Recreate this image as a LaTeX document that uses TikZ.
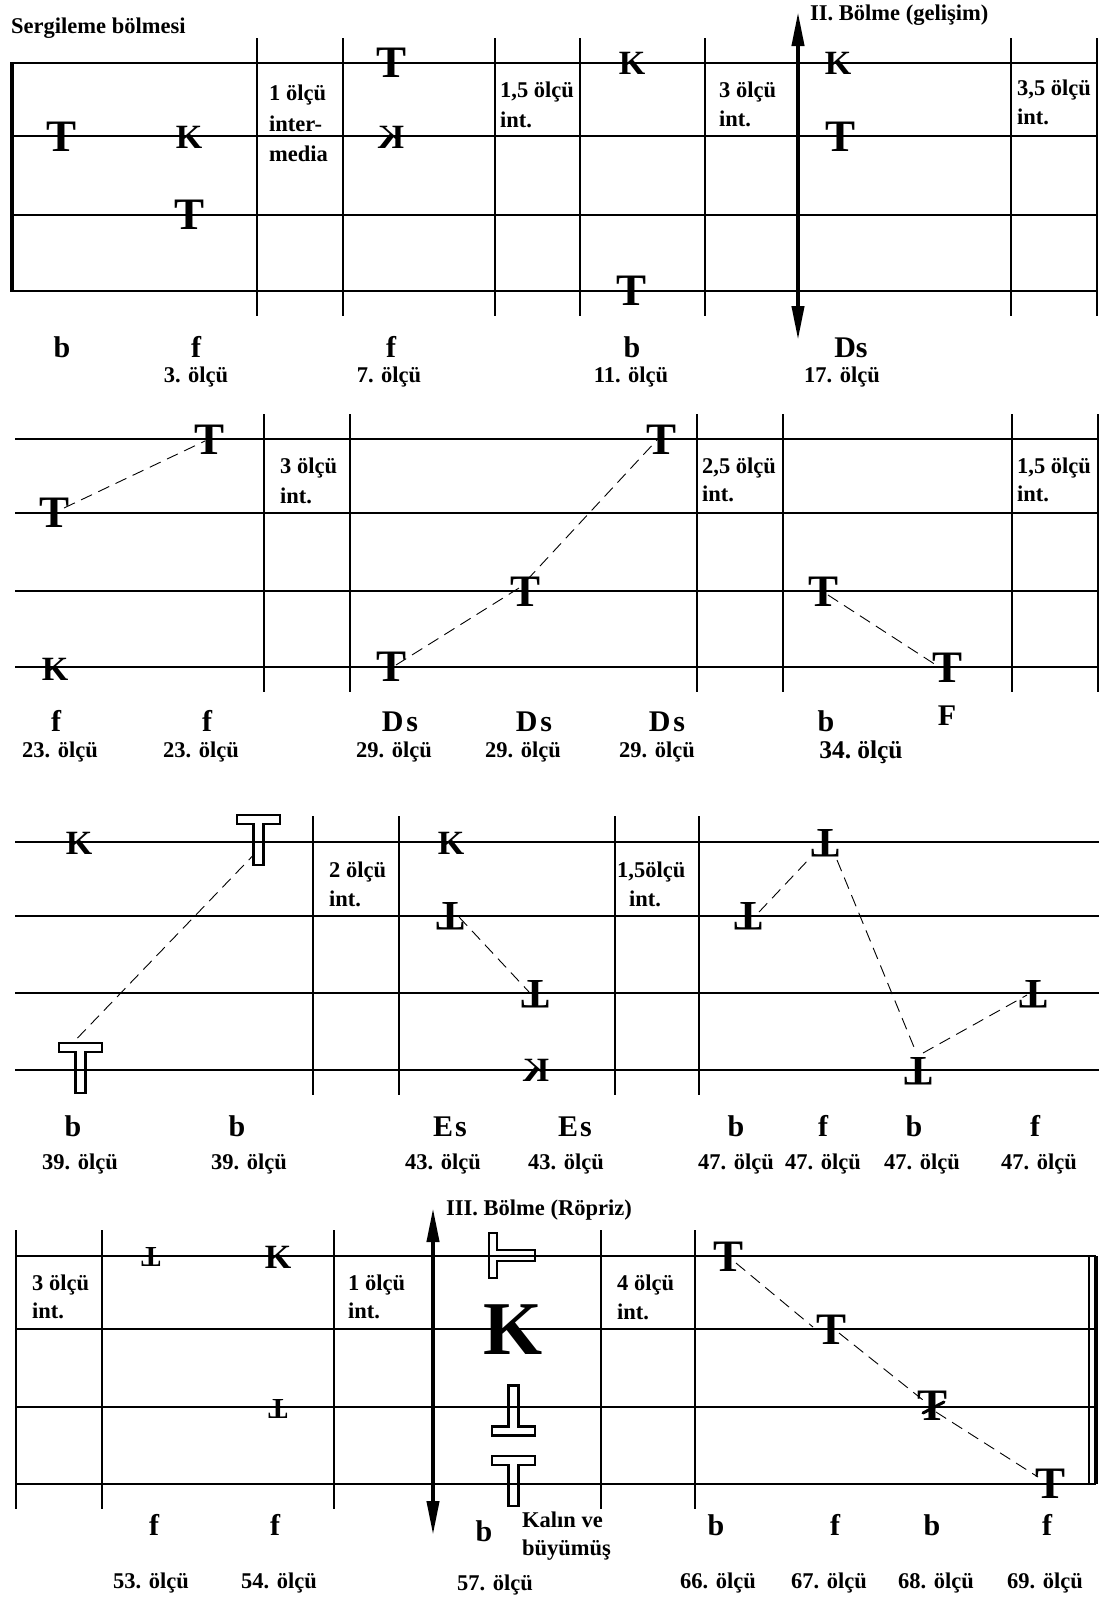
\documentclass[tikz,border=0pt]{standalone}
\usepackage{fontspec}
\usepackage{graphicx}
\setmainfont{Liberation Serif}
\usetikzlibrary{arrows.meta,calc}
\newcommand{\hTpath}{(-21.5,-25) -- (21.5,-25) -- (21.5,-16) -- (5,-16) -- (5,25) -- (-5,25) -- (-5,-16) -- (-21.5,-16) -- cycle}
\newcommand{\hUpath}{(-5,-25) -- (5,-25) -- (5,16) -- (21.5,16) -- (21.5,25) -- (-21.5,25) -- (-21.5,16) -- (-5,16) -- cycle}
\newcommand{\hLpath}{(-23,-22.5) -- (-15,-22.5) -- (-15,-5.5) -- (23,-5.5) -- (23,5.5) -- (-15,5.5) -- (-15,22.5) -- (-23,22.5) -- cycle}
\begin{document}
\begin{tikzpicture}[x=1pt,y=-1pt,
  staff/.style={line width=1.5pt},
  barl/.style={line width=1.3pt},
  dl/.style={line width=0.9pt, dash pattern=on 12pt off 7pt},
  lab/.style={font=\fontsize{22.5}{27}\selectfont\bfseries, inner sep=0pt, anchor=base west},
  num/.style={font=\fontsize{22.5}{27}\selectfont\bfseries, inner sep=0pt, anchor=base},
  key/.style={font=\fontsize{30}{34}\selectfont\bfseries, inner sep=0pt, anchor=base},
  symT/.style={font=\fontsize{45}{50}\selectfont\bfseries, inner sep=0pt},
  symU/.style={font=\fontsize{42}{46}\selectfont\bfseries, inner sep=0pt},
  symK/.style={font=\fontsize{34}{40}\selectfont\bfseries, inner sep=0pt},
  smallU/.style={font=\fontsize{29}{32}\selectfont\bfseries, inner sep=0pt},
  hbox/.style={minimum width=58pt, minimum height=58pt, inner sep=0pt},
  hollowT/.style={hbox, path picture={\draw[line width=2.2pt, shift={(path picture bounding box.center)}] \hTpath;}},
  hollowU/.style={hbox, path picture={\draw[line width=2.2pt, shift={(path picture bounding box.center)}] \hUpath;}},
  hollowL/.style={hbox, path picture={\draw[line width=2.2pt, shift={(path picture bounding box.center)}] \hLpath;}},
  bigarrow/.style={line width=4pt, arrows={Triangle[length=34pt,width=12pt]-Triangle[length=34pt,width=12pt]}}
]
\useasboundingbox (0,0) rectangle (1104,1599);

% ================= Row 1 =================
\foreach \y in {63,136,215,291} \draw[staff] (10,\y) -- (1098,\y);
\draw[line width=3.5pt] (12,63) -- (12,291);
\foreach \x in {257,343,495,580,705,1011,1097} \draw[barl] (\x,38) -- (\x,316);
\coordinate (ar1t) at (798,12);
\coordinate (ar1b) at (798,340);
\draw[bigarrow] (ar1t) -- (ar1b);

\node[lab] (title1) at (11,33) {Sergileme bölmesi};
\node[lab] (sec2) at (810,20) {II. Bölme (gelişim)};

\node[lab] (i1a) at (269,100) {1 ölçü};
\node[lab] (i1b) at (269,131) {inter-};
\node[lab] (i1c) at (269,161) {media};
\node[lab] (i2a) at (500,97) {1,5 ölçü};
\node[lab] (i2b) at (500,127) {int.};
\node[lab] (i3a) at (719,97) {3 ölçü};
\node[lab] (i3b) at (719,126) {int.};
\node[lab] (i4a) at (1017,95) {3,5 ölçü};
\node[lab] (i4b) at (1017,124) {int.};

\node[symT] (r1t1) at (62,137) {T};
\node[symK] (r1k1) at (189,137) {K};
\node[symT] (r1t2) at (190,215) {T};
\node[symT] (r1t3) at (392,63) {T};
\node[symK] (r1k2) at (391,137) {\reflectbox{K}};
\node[symK] (r1k3) at (632,63) {K};
\node[symT] (r1t4) at (632,291) {T};
\node[symK] (r1k4) at (838,63) {K};
\node[symT] (r1t5) at (840,137) {T};

\node[key] (r1l1) at (62,357) {b};
\node[key] (r1l2) at (196,357) {f};
\node[key] (r1l3) at (391,357) {f};
\node[key] (r1l4) at (632,357) {b};
\node[key] (r1l5) at (851,357) {Ds};
\node[num] (r1n1) at (196,382) {3. ölçü};
\node[num] (r1n2) at (389,382) {7. ölçü};
\node[num] (r1n3) at (631,382) {11. ölçü};
\node[num] (r1n4) at (842,382) {17. ölçü};

% ================= Row 2 =================
\foreach \y in {439,513,591,667} \draw[staff] (15,\y) -- (1099,\y);
\foreach \x in {264,350,697,783,1012,1098} \draw[barl] (\x,414) -- (\x,692);

\node[lab] (j1a) at (280,473) {3 ölçü};
\node[lab] (j1b) at (280,503) {int.};
\node[lab] (j2a) at (702,473) {2,5 ölçü};
\node[lab] (j2b) at (702,501) {int.};
\node[lab] (j3a) at (1017,473) {1,5 ölçü};
\node[lab] (j3b) at (1017,501) {int.};

\node[symT] (r2t1) at (55,513) {T};
\node[symT] (r2t2) at (210,440) {T};
\node[symK] (r2k1) at (55,669) {K};
\node[symT] (r2t3) at (392,667) {T};
\node[symT] (r2t4) at (526,592) {T};
\node[symT] (r2t5) at (662,440) {T};
\node[symT] (r2t6) at (823,592) {T};
\node[symT] (r2t7) at (947,668) {T};

\draw[dl] ($(r2t1)+(9,-5)$) -- ($(r2t2)+(-5,1)$);
\draw[dl] ($(r2t3)+(4,-2)$) -- ($(r2t4)+(1,-9)$);
\draw[dl] ($(r2t4)+(1,-12)$) -- ($(r2t5)+(-5,0)$);
\draw[dl] ($(r2t6)+(5,3)$) -- ($(r2t7)+(-11,-3)$);

\node[key] (r2l1) at (56,731) {f};
\node[key] (r2l2) at (207,731) {f};
\node[key] (r2l3) at (400,731) {D\hspace{3pt}s};
\node[key] (r2l4) at (534,731) {D\hspace{3pt}s};
\node[key] (r2l5) at (667,731) {D\hspace{3pt}s};
\node[key] (r2l6) at (826,731) {b};
\node[key] (r2l7) at (947,725) {F};
\node[num] (r2n1) at (60,757) {23. ölçü};
\node[num] (r2n2) at (201,757) {23. ölçü};
\node[num] (r2n3) at (394,757) {29. ölçü};
\node[num] (r2n4) at (523,757) {29. ölçü};
\node[num] (r2n5) at (657,757) {29. ölçü};
\node[num, font=\fontsize{25.5}{30}\selectfont\bfseries] (r2n6) at (861,758) {34.\hspace{6pt}ölçü};

% ================= Row 3 =================
\foreach \y in {842,916,993,1070} \draw[staff] (15,\y) -- (1099,\y);
\foreach \x in {313,399,615,699} \draw[barl] (\x,816) -- (\x,1095);

\node[lab] (k1a) at (329,877) {2 ölçü};
\node[lab] (k1b) at (329,906) {int.};
\node[lab] (k2a) at (617,877) {1,5ölçü};
\node[lab] (k2b) at (629,906) {int.};

\node[symK] (r3k1) at (79,843) {K};
\node[hollowT] (r3h1) at (258.5,840) {};
\node[hollowT] (r3h2) at (80.5,1068) {};
\node[symK] (r3k2) at (451,843) {K};
\node[symU] (r3u1) at (450,916) {\rotatebox[origin=c]{180}{T}};
\node[symU] (r3u2) at (535,994) {\rotatebox[origin=c]{180}{T}};
\node[symK] (r3k3) at (536,1070) {\reflectbox{K}};
\node[symU] (r3u3) at (748,916) {\rotatebox[origin=c]{180}{T}};
\node[symU] (r3u4) at (825,843) {\rotatebox[origin=c]{180}{T}};
\node[symU] (r3u5) at (918,1071) {\rotatebox[origin=c]{180}{T}};
\node[symU] (r3u6) at (1033,994) {\rotatebox[origin=c]{180}{T}};

\draw[dl] ($(r3h2)+(-3,-30)$) -- ($(r3h1)+(-5,15)$);
\draw[dl] ($(r3u1)+(9,1)$) -- ($(r3u2)+(-5,-1)$);
\draw[dl] ($(r3u3)+(11,-4)$) -- ($(r3u4)+(-14,14)$);
\draw[dl] ($(r3u4)+(12,17)$) -- ($(r3u5)+(-2,-19)$);
\draw[dl] ($(r3u5)+(5,-18)$) -- ($(r3u6)+(-6,1)$);

\node[key] (r3l1) at (73,1136) {b};
\node[key] (r3l2) at (237,1136) {b};
\node[key] (r3l3) at (450,1136) {E\hspace{2pt}s};
\node[key] (r3l4) at (575,1136) {E\hspace{2pt}s};
\node[key] (r3l5) at (736,1136) {b};
\node[key] (r3l6) at (823,1136) {f};
\node[key] (r3l7) at (914,1136) {b};
\node[key] (r3l8) at (1035,1136) {f};
\node[num] (r3n1) at (80,1169) {39. ölçü};
\node[num] (r3n2) at (249,1169) {39. ölçü};
\node[num] (r3n3) at (443,1169) {43. ölçü};
\node[num] (r3n4) at (566,1169) {43. ölçü};
\node[num] (r3n5) at (736,1169) {47. ölçü};
\node[num] (r3n6) at (823,1169) {47. ölçü};
\node[num] (r3n7) at (922,1169) {47. ölçü};
\node[num] (r3n8) at (1039,1169) {47. ölçü};

% ================= Row 4 =================
\foreach \y in {1256,1329,1407,1484} \draw[staff] (15,\y) -- (1096,\y);
\foreach \x in {16,102,334,601,695} \draw[barl] (\x,1230) -- (\x,1509);
\draw[barl] (1089,1256) -- (1089,1484);
\draw[line width=4.5pt] (1096,1256) -- (1096,1484);
\coordinate (ar2t) at (433,1208);
\coordinate (ar2b) at (433,1535);
\draw[bigarrow] (ar2t) -- (ar2b);

\node[lab] (sec3) at (446,1215) {III. Bölme (Röpriz)};
\node[lab] (m1a) at (32,1290) {3 ölçü};
\node[lab] (m1b) at (32,1318) {int.};
\node[lab] (m2a) at (348,1290) {1 ölçü};
\node[lab] (m2b) at (348,1318) {int.};
\node[lab] (m3a) at (617,1290) {4 ölçü};
\node[lab] (m3b) at (617,1319) {int.};

\node[smallU] (r4u1) at (151,1257) {\rotatebox[origin=c]{180}{T}};
\node[symK] (r4k1) at (278,1257) {K};
\node[smallU] (r4u2) at (278,1409) {\rotatebox[origin=c]{180}{T}};
\node[hollowL] (r4h1) at (512,1255.5) {};
\node[font=\fontsize{76}{80}\selectfont\bfseries, inner sep=0pt] (r4bk) at (513,1330) {K};
\node[hollowU] (r4h2) at (513.5,1410.5) {};
\node[hollowT] (r4h3) at (513.5,1481) {};
\node[symT] (r4t1) at (729,1257) {T};
\node[symT] (r4t2) at (831,1330) {T};
\node[symT] (r4t3) at (932,1406) {T};
\draw[line width=3pt, line cap=round] ($(r4t3)+(-9,7)$) -- ($(r4t3)+(12,-4)$);
\node[symT] (r4t4) at (1050,1484) {T};

\draw[dl] ($(r4t1)+(7,6)$) -- ($(r4t2)+(-18,-3)$);
\draw[dl] ($(r4t2)+(8,3)$) -- ($(r4t3)+(-9,-6)$);
\draw[dl] ($(r4t3)+(4,6)$) -- ($(r4t4)+(-12,-7)$);

\node[key] (r4l1) at (154,1535) {f};
\node[key] (r4l2) at (275,1535) {f};
\node[key] (r4l3) at (484,1541) {b};
\node[lab] (kal1) at (522,1527) {Kalın ve};
\node[lab] (kal2) at (522,1555) {büyümüş};
\node[key] (r4l4) at (716,1535) {b};
\node[key] (r4l5) at (835,1535) {f};
\node[key] (r4l6) at (932,1535) {b};
\node[key] (r4l7) at (1047,1535) {f};
\node[num] (r4n1) at (151,1588) {53. ölçü};
\node[num] (r4n2) at (279,1588) {54. ölçü};
\node[num] (r4n3) at (495,1590) {57. ölçü};
\node[num] (r4n4) at (718,1588) {66. ölçü};
\node[num] (r4n5) at (829,1588) {67. ölçü};
\node[num] (r4n6) at (936,1588) {68. ölçü};
\node[num] (r4n7) at (1045,1588) {69. ölçü};
\end{tikzpicture}
\end{document}
